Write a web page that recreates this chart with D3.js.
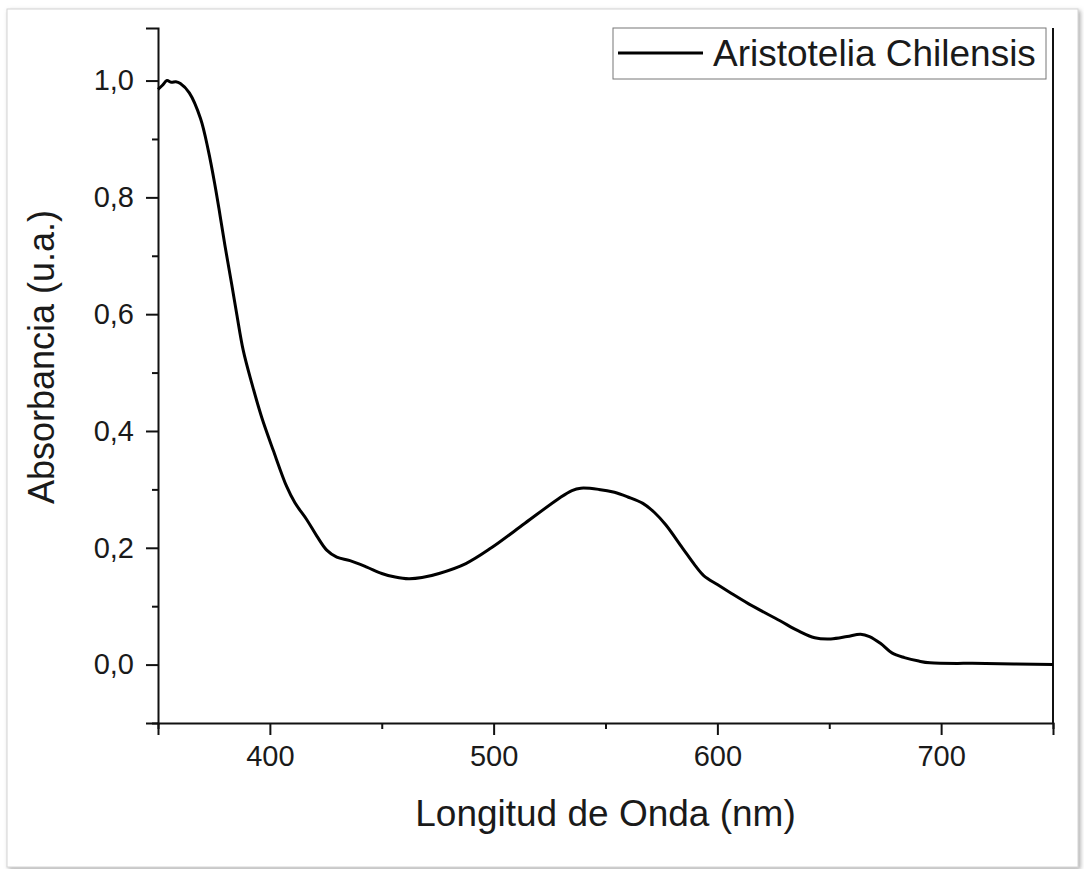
<!DOCTYPE html>
<html lang="es">

<head>
  <meta charset="UTF-8">
  <title>Aristotelia Chilensis</title>
  <script src="https://cdn.jsdelivr.net/npm/d3@7"></script>
  <style>
    body { margin: 0; background: #fff; }
    text { font-family: "Liberation Sans", Arial, sans-serif; fill: #1a1a1a; }
  </style>
</head>

<body>
  <div id="main" style="width:1084px;height:869px"></div>
  <script>
    var wavelengths = [350, 352, 354, 356, 358, 360, 364, 369, 372.5, 375.5, 377.7, 379.9, 382.9, 385.2, 388.1,
      391.9, 396.3, 401.5, 407.5, 411.2, 416.5, 421, 425.4, 429.9, 435.8, 443.3, 450, 456, 462, 468, 475.6,
      487.6, 499, 514, 529, 535, 539, 547, 554, 560, 566.7, 572, 577, 584.5, 590, 594, 600, 605.8, 614, 628, 636,
      643.5, 650.7, 658, 664, 668, 673, 678, 683.6, 690, 695, 720, 750];
    var absorbance = [0.985, 0.992, 1.0, 0.997, 0.998, 0.995, 0.979, 0.935, 0.88, 0.82, 0.77, 0.718, 0.652, 0.6,
      0.538, 0.482, 0.424, 0.367, 0.305, 0.277, 0.248, 0.22, 0.196, 0.184, 0.178, 0.167, 0.156, 0.15, 0.147,
      0.149, 0.156, 0.173, 0.2, 0.242, 0.284, 0.298, 0.302, 0.3, 0.295, 0.287, 0.276, 0.26, 0.239, 0.199, 0.17,
      0.152, 0.137, 0.123, 0.104, 0.075, 0.058, 0.046, 0.044, 0.048, 0.052, 0.048, 0.036, 0.02, 0.012, 0.006,
      0.003, 0.002, 0.0];
    var seriesName = "Aristotelia Chilensis";
    var xTicks = [400, 500, 600, 700];
    var xMinorTicks = [350, 450, 550, 650, 750];
    var yTicks = [0, 0.2, 0.4, 0.6, 0.8, 1.0];
    var yMinorTicks = [-0.1, 0.1, 0.3, 0.5, 0.7, 0.9];

    var W = 1084, H = 869;
    var margin = { left: 158, top: 28, right: 31, bottom: 146 };
    var w = W - margin.left - margin.right;
    var h = H - margin.top - margin.bottom;

    var svg = d3.select("#main").append("svg")
      .attr("width", W)
      .attr("height", H);

    // marco con sombra
    var defs = svg.append("defs");
    defs.append("filter").attr("id", "shadow")
      .attr("x", "-5%").attr("y", "-5%").attr("width", "110%").attr("height", "110%")
      .append("feDropShadow")
      .attr("dx", 2).attr("dy", 2).attr("stdDeviation", 2)
      .attr("flood-color", "#777").attr("flood-opacity", 0.6);
    svg.append("rect")
      .attr("x", 7).attr("y", 9)
      .attr("width", 1071).attr("height", 858)
      .attr("fill", "#fff")
      .attr("stroke", "#d4d4d4")
      .attr("filter", "url(#shadow)");

    var g = svg.append("g")
      .attr("transform", "translate(" + margin.left + "," + margin.top + ")");

    var x = d3.scaleLinear().domain([350, 750]).range([0, w]);
    var y = d3.scaleLinear().domain([-0.1, 1.09]).range([h, 0]);

    var es = d3.formatLocale({ decimal: ",", thousands: ".", grouping: [3], currency: ["", ""] });
    var fmt = es.format(".1f");

    // ejes principales
    var xAxis = g.append("g").attr("transform", "translate(0," + h + ")")
      .call(d3.axisBottom(x).tickValues(xTicks).tickSize(12).tickPadding(10).tickFormat(d3.format("d")));
    var xMinor = g.append("g").attr("transform", "translate(0," + h + ")")
      .call(d3.axisBottom(x).tickValues(xMinorTicks).tickSize(6).tickFormat(""));
    var yAxis = g.append("g")
      .call(d3.axisLeft(y).tickValues(yTicks).tickSize(12).tickPadding(12).tickFormat(fmt));
    var yMinor = g.append("g")
      .call(d3.axisLeft(y).tickValues(yMinorTicks).tickSize(6).tickFormat(""));

    [xAxis, xMinor, yAxis, yMinor].forEach(function (a) {
      a.selectAll("path").attr("stroke", "#111").attr("stroke-width", 2);
      a.selectAll("line").attr("stroke", "#111").attr("stroke-width", 2);
      a.selectAll("text").attr("font-size", 29).attr("fill", "#1a1a1a")
        .style("font-family", "'Liberation Sans', Arial, sans-serif");
    });
    xMinor.select("path").remove();
    yMinor.select("path").remove();

    // linea derecha
    g.append("line")
      .attr("x1", w).attr("x2", w)
      .attr("y1", 0).attr("y2", h)
      .attr("stroke", "#111").attr("stroke-width", 2);

    // curva
    var data = wavelengths.map(function (d, i) { return { x: d, y: absorbance[i] }; });
    var line = d3.line()
      .x(function (d) { return x(d.x); })
      .y(function (d) { return y(d.y); })
      .curve(d3.curveCatmullRom.alpha(0.5));
    g.append("path")
      .datum(data)
      .attr("fill", "none")
      .attr("stroke", "#000")
      .attr("stroke-width", 3)
      .attr("stroke-linejoin", "round")
      .attr("d", line);

    // titulos
    svg.append("text")
      .attr("x", margin.left + w / 2)
      .attr("y", 826)
      .attr("text-anchor", "middle")
      .attr("font-size", 37)
      .text("Longitud de Onda (nm)");
    svg.append("text")
      .attr("transform", "translate(54,357) rotate(-90)")
      .attr("text-anchor", "middle")
      .attr("font-size", 36)
      .text("Absorbancia (u.a.)");

    // leyenda
    var lg = svg.append("g").attr("transform", "translate(613,28)");
    lg.append("rect")
      .attr("width", 433).attr("height", 51)
      .attr("fill", "#fff")
      .attr("stroke", "#777").attr("stroke-width", 1);
    lg.append("line")
      .attr("x1", 5).attr("x2", 90)
      .attr("y1", 25).attr("y2", 25)
      .attr("stroke", "#000").attr("stroke-width", 3);
    lg.append("text")
      .attr("x", 100).attr("y", 38)
      .attr("font-size", 37)
      .text(seriesName);
  </script>
</body>

</html>
